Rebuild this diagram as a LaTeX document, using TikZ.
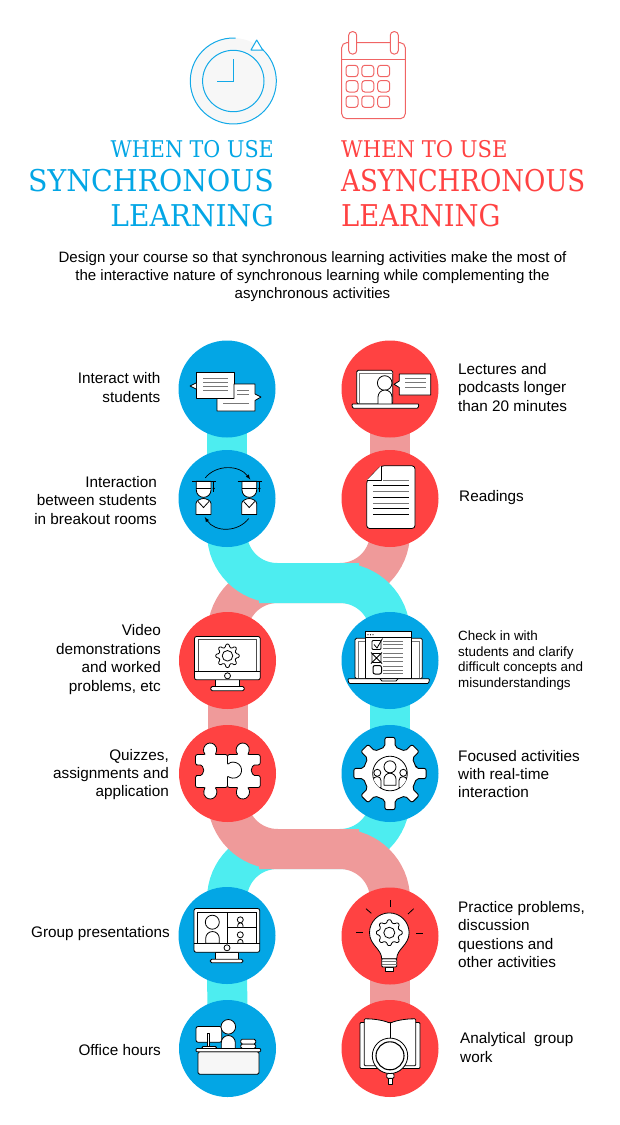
\documentclass[tikz,border=0pt]{standalone}
\usepackage{fontspec}
\usepackage{graphicx}
\setmainfont{Liberation Sans}
\newfontfamily\headfont{DejaVu Serif}
\usetikzlibrary{backgrounds,math}

\definecolor{synblue}{HTML}{03A6E5}
\definecolor{asynred}{HTML}{FF4242}
\definecolor{bandcyan}{HTML}{4DEDF0}
\definecolor{bandsalmon}{HTML}{EF9A9A}
\definecolor{headblue}{HTML}{12A9E8}
\definecolor{calred}{HTML}{F06464}
\definecolor{icongray}{HTML}{777777}

\tikzset{
  syndot/.style={circle,fill=synblue,minimum size=97pt,inner sep=0pt},
  asyndot/.style={circle,fill=asynred,minimum size=97pt,inner sep=0pt},
  cyanband/.style={draw=bandcyan,line width=40pt,rounded corners=50pt},
  salmonband/.style={draw=bandsalmon,line width=40pt,rounded corners=50pt},
  leftlab/.style={anchor=east,align=right,font=\fontsize{15.3}{18.4}\selectfont,inner sep=0pt},
  rightlab/.style={anchor=west,align=left,font=\fontsize{15.3}{18.4}\selectfont,inner sep=0pt},
  headb/.style={anchor=east,inner sep=0pt,text=synblue},
  headr/.style={anchor=west,inner sep=0pt,text=asynred},
  ico/.style={draw=black,fill=white,line width=0.8pt,line join=round},
  icoln/.style={draw=black,line width=0.8pt},
  icogr/.style={draw=icongray,line width=1pt},
}

% closed gear outline: outer radius, body radius, half tooth angle at tip, at root
\newcommand{\gearpath}[4]{(0-#4:#2) \foreach \a in {0,45,...,315} {-- (\a-#4:#2) -- (\a-#3:#1) -- (\a+#3:#1) -- (\a+#4:#2)} -- cycle}

\begin{document}
\begin{tikzpicture}[x=1pt,y=-1pt]
  \useasboundingbox (0,0) rectangle (620,1125);

  % clock
  \fill[black!3] (233.3,81) circle (43);
  \draw[headblue,line width=1pt] (233.3,81) +(-53:43) arc (-53:273:43);
  \draw[headblue,line width=1pt] (233.3,81) circle (30.7);
  \draw[headblue,line width=1pt] (233.3,59) -- (233.3,81) -- (217.3,81);
  \draw[headblue,line width=1pt,fill=white,line join=round] (256.7,40) -- (251,50) -- (262.7,50) -- cycle;

  % calendar
  \draw[calred,line width=1pt,rounded corners=5pt] (341.7,42.7) rectangle (405.3,118.7);
  \draw[calred,line width=1pt] (341.7,59.3) -- (405.3,59.3);
  \draw[calred,line width=1pt,fill=white,rounded corners=3.5pt] (348.7,31.7) rectangle (356.7,54);
  \draw[calred,line width=1pt,fill=white,rounded corners=3.5pt] (390.3,31.7) rectangle (398.3,54);
  \foreach \cx in {352,367.8,383.7}
    \foreach \cy in {71,86.3,101.7}
      \draw[calred,line width=1pt,rounded corners=3pt] (\cx-6,\cy-5.7) rectangle (\cx+6,\cy+5.7);

  % headings
  \node[headb,font=\headfont\fontsize{23}{23}\selectfont] (whena) at (274,149) {\scalebox{0.90}[1]{WHEN TO USE}};
  \node[headb,font=\headfont\fontsize{30}{30}\selectfont] (syn) at (274,181) {\scalebox{0.946}[1]{SYNCHRONOUS}};
  \node[headb,font=\headfont\fontsize{30}{30}\selectfont] (syl) at (274,216) {\scalebox{0.937}[1]{LEARNING}};
  \node[headr,font=\headfont\fontsize{23}{23}\selectfont] (whenb) at (341,149) {\scalebox{0.917}[1]{WHEN TO USE}};
  \node[headr,font=\headfont\fontsize{30}{30}\selectfont] (asyn) at (341,181) {\scalebox{0.868}[1]{ASYNCHRONOUS}};
  \node[headr,font=\headfont\fontsize{30}{30}\selectfont] (asl) at (341,216) {\scalebox{0.914}[1]{LEARNING}};

  \node[align=center,inner sep=0pt,font=\fontsize{15.05}{18}\selectfont] (intro) at (312.5,276.5)
    {Design your course so that synchronous learning activities make the most of\\
     the interactive nature of synchronous learning while complementing the\\
     asynchronous activities};

  % stations
  \node[syndot] (chat) at (227,389) {};
  \node[syndot] (breakout) at (227,498.5) {};
  \node[asyndot] (video) at (227.5,660.5) {};
  \node[asyndot] (quiz) at (227.5,773.5) {};
  \node[syndot] (group) at (227,935.5) {};
  \node[syndot] (office) at (227.5,1048.5) {};
  \node[asyndot] (lecture) at (390,389) {};
  \node[asyndot] (reading) at (390,498.5) {};
  \node[syndot] (check) at (390,660.5) {};
  \node[syndot] (focus) at (390,773.5) {};
  \node[asyndot] (practice) at (390,936) {};
  \node[asyndot] (analytic) at (390,1048.5) {};
  \coordinate (midtop) at (309,583);
  \coordinate (midlow) at (309,849);

  \begin{pgfonlayer}{background}
    \draw[salmonband] (lecture.center) -- (reading.center);
    \draw[salmonband] (reading.center) |- (midtop) -| (video.center);
    \draw[salmonband] (video.center) -- (quiz.center);
    \draw[cyanband] (chat.center) -- (breakout.center);
    \draw[cyanband] (breakout.center) |- (midtop) -| (check.center);
    \draw[cyanband] (check.center) -- (focus.center);
    \draw[cyanband] (focus.center) |- (midlow) -| (group.center);
    \draw[cyanband] (group.center) -- (office.center);
    \draw[salmonband] (quiz.center) |- (midlow) -| (practice.center);
    \draw[salmonband] (practice.center) -- (analytic.center);
  \end{pgfonlayer}

  % labels
  \node[leftlab] (lchat) at (160.5,387.5) {Interact with\\students};
  \node[leftlab] (lbreak) at (157,500.5) {Interaction\\between students\\in breakout rooms};
  \node[leftlab] (lvideo) at (161,659.5) {Video\\demonstrations\\and worked\\problems, etc};
  \node[leftlab] (lquiz) at (169,774.5) {Quizzes,\\assignments and\\application};
  \node[leftlab] (lgroup) at (170,934) {Group presentations};
  \node[leftlab] (loffice) at (161,1050) {Office hours};
  \node[rightlab] (rlect) at (458,387.5) {Lectures and\\podcasts longer\\than 20 minutes};
  \node[rightlab] (rread) at (459,498) {Readings};
  \node[rightlab,font=\fontsize{13.4}{15.8}\selectfont] (rcheck) at (458,660.5) {Check in with\\students and clarify\\difficult concepts and\\misunderstandings};
  \node[rightlab] (rfocus) at (458,774) {Focused activities\\with real-time\\interaction};
  \node[rightlab] (rprac) at (458,934.5) {Practice problems,\\discussion\\questions and\\other activities};
  \node[rightlab] (ranal) at (460,1047.5) {Analytical\ \ group\\work};

  % chat bubbles
  \begin{scope}[shift={(chat.center)}]
    \draw[ico] (-31,-17) rectangle (7,9.5);
    \draw[ico] (-31,-6) -- (-37,-3) -- (-31,0);
    \draw[icogr] (-24,-11) -- (1,-11) (-24,-7) -- (1,-7) (-24,-3) -- (1,-3) (-24,1) -- (1,1);
    \draw[ico] (-10,9.5) -- (-10,22) -- (28,22) -- (28,11.5) -- (34,8) -- (28,5) -- (28,-5) -- (7,-5) -- (7,9.5) -- cycle;
    \draw[icogr] (10,1) -- (22,1) (10,5.6) -- (22,5.6) (-4,14) -- (22,14);
  \end{scope}

  % students swapping
  \begin{scope}[shift={(breakout.center)}]
    \foreach \dx in {0,45.7}{
      \begin{scope}[xshift=\dx pt]
        \draw[ico] (-30.7,-17.3) -- (-16,-17.3) -- (-16,-8.5) arc (0:180:7.35) -- cycle;
        \draw[icoln] (-35,-17.3) -- (-11,-17.3) (-30.7,-10) -- (-16,-10);
        \draw[icoln] (-13.3,-17.3) -- (-13.3,-6.7);
        \fill (-13.3,-10) circle (1.2);
        \draw[ico] (-31,16) -- (-31,5) .. controls (-31,2) and (-26,0) .. (-23.5,0) .. controls (-21,0) and (-16,2) .. (-16,5) -- (-16,16) -- cycle;
        \draw[icoln] (-29,3) -- (-23.5,9) -- (-18,3);
      \end{scope}
    }
    \draw[-latex,line width=0.7pt] (-21.7,-20.7) .. controls (-11,-34) and (12,-34) .. (23.3,-19);
    \draw[-latex,line width=0.7pt] (21.7,20) .. controls (11,34) and (-12,34) .. (-22.3,18.5);
  \end{scope}

  % lecture on laptop
  \begin{scope}[shift={(lecture.center)}]
    \draw[ico,rounded corners=1.5pt] (-33.3,-18.7) rectangle (2.7,15);
    \draw[icogr] (-30.7,15) -- (-30.7,-16) -- (2.7,-16);
    \draw[ico] (-5.3,-6) circle (7.3);
    \draw[ico] (-12,17) -- (-12,8) arc (180:360:7) -- (2,17) -- cycle;
    \draw[ico,rounded corners=1pt] (-38.3,15) -- (29,15) -- (28,19.3) -- (-37.3,19.3) -- cycle;
    \draw[ico] (9.3,-8) -- (4,-4.7) -- (9.3,-1.5) -- (9.3,6) -- (40.7,6) -- (40.7,-15) -- (9.3,-15) -- cycle;
    \draw[icogr] (15,-10.7) -- (36,-10.7) (15,-6.3) -- (36,-6.3) (15,-2) -- (36,-2);
  \end{scope}

  % reading sheet
  \begin{scope}[shift={(reading.center)}]
    \draw[ico,rounded corners=3pt] (-9,-32.7) -- (25,-32.7) -- (25,30) -- (-23.3,30) -- (-23.3,-18) -- cycle;
    \draw[ico] (-23.3,-18) -- (-9,-18) -- (-9,-32.7);
    \draw[icogr] (-6.7,-18.3) -- (19,-18.3);
    \foreach \ly in {-12.7,-1,10.3} \draw[icoln] (-16.7,\ly) -- (19,\ly);
    \foreach \ly in {-6.7,4.7} \draw[icogr] (-16.7,\ly) -- (19,\ly);
    \draw[icoln] (-16.7,16.3) -- (19,16.3);
  \end{scope}

  % monitor with gear
  \begin{scope}[shift={(video.center)}]
    \draw[ico] (-11.7,19) rectangle (11.7,26);
    \draw[ico,rounded corners=1.5pt] (-16.7,26) rectangle (16.7,30.3);
    \draw[ico,rounded corners=2pt] (-33,-24) rectangle (32.7,19.3);
    \draw[icoln,draw=black!70] (-29,11) -- (-29,-20.7) -- (28.7,-20.7) -- (28.7,11);
    \draw[icoln] (-33,11) -- (32.7,11);
    \draw[ico] (0,15.3) circle (3);
    \begin{scope}[shift={(0,-4.7)}]
      \draw[ico,rounded corners=1pt] \gearpath{11.8}{8.7}{8}{14};
      \draw[ico] (0,0) circle (5.3);
    \end{scope}
  \end{scope}

  % checklist on laptop
  \begin{scope}[shift={(check.center)}]
    \draw[ico,rounded corners=1.5pt] (-35,18.3) -- (-35,-22.3) -- (32.3,-22.3) -- (32.3,18.3) -- cycle;
    \draw[icogr] (-31.7,18.3) -- (-31.7,-19) -- (29,-19) -- (29,18.3);
    \draw[ico] (-24.7,18.3) rectangle (21.3,-29);
    \draw[icoln] (-24.7,-22.7) -- (21.3,-22.7);
    \foreach \dx in {-22,-19.5,-17} \fill (\dx,-25.8) circle (0.7);
    \draw[ico,rounded corners=1pt] (-38,18.3) -- (39.7,18.3) -- (38.5,23) -- (-41,23) -- (-42.3,18.3) -- cycle;
    \draw[icoln] (-10,18.3) -- (-8,20.5) -- (6,20.5) -- (8,18.3);
    \draw[icoln,rounded corners=1pt] (-18,-20) rectangle (-9,-11);
    \draw[icoln] (-16,-16) -- (-13,-12.5) -- (-7.5,-22);
    \draw[icoln,rounded corners=1pt] (-18,-7) rectangle (-9,2);
    \draw[icoln] (-19,-8) -- (-8,3) (-8,-8) -- (-19,3);
    \draw[icogr,draw=black,rounded corners=2pt] (-17,5) rectangle (-8.5,13.5);
    \foreach \ly in {-19.3,-15.7,-12.3,-6.7,-2.7,1.3,6.3,9.7,13.3}
      \draw[icogr] (-6.7,\ly) -- (13.3,\ly);
  \end{scope}

  % puzzle
  \begin{scope}[shift={(quiz.center)}]
    \draw[ico,rounded corners=2pt] (0,-19) -- (11.1,-19) arc (130:410:6.5) -- (32.7,-19) -- (32.7,-8.6) -- (29,-8.6) arc (-90:-270:5.3) -- (32.7,2) -- (32.7,14) -- (19.5,14) arc (310:590:6.5) -- (0,14) -- cycle;
    \draw[ico,rounded corners=2pt] (-32,-19) -- (-21.5,-19) arc (130:410:6.5) -- (0,-19) -- (0,-8.4) arc (220:500:8) -- (0,14) -- (-13.1,14) arc (310:590:6.5) -- (-32,14) -- (-32,2) -- (-29,2) arc (90:-90:5.3) -- (-32,-8.6) -- cycle;
  \end{scope}

  % gear with people
  \begin{scope}[shift={(focus.center)}]
    \draw[ico,rounded corners=2pt,line width=0.9pt] \gearpath{36.5}{27}{8}{11};
    \draw[ico] (0,0) circle (17.3);
    \begin{scope}
      \clip (0,0) circle (17.3);
      \draw[ico] (-12.7,-0.7) circle (3.5);
      \draw[ico] (13.3,-0.7) circle (3.5);
      \draw[ico] (-17,14) -- (-17,7) arc (180:360:4) -- (-9,14) -- cycle;
      \draw[ico] (9,14) -- (9,7) arc (180:360:4) -- (17.6,14) -- cycle;
      \draw[ico] (0,-6.7) circle (6);
      \draw[ico] (-6,11.7) -- (-6,5.7) arc (180:360:6) -- (6,11.7) -- cycle;
    \end{scope}
  \end{scope}

  % group call on monitor
  \begin{scope}[shift={(group.center)}]
    \draw[ico] (-11.7,16.7) rectangle (11.7,23.7);
    \draw[ico,rounded corners=1.5pt] (-16.7,23.7) rectangle (16,27.3);
    \draw[ico,rounded corners=2pt] (-33,-27) rectangle (32.7,16.7);
    \draw[icoln] (-33,7.7) -- (32.7,7.7) (-29.3,7.7) -- (-29.3,-23.3) -- (29.3,-23.3) -- (29.3,7.7);
    \draw[icoln] (0,-23.3) -- (0,7.7) (0,-8) -- (29.3,-8);
    \draw[ico] (-14.7,-13.3) circle (7);
    \draw[ico] (-21.3,7.7) -- (-21.3,2.8) arc (180:360:6.8) -- (-7.7,7.7) -- cycle;
    \draw[ico] (13.3,-15.7) circle (3);
    \draw[ico] (10.7,-8) -- (10.7,-10) arc (180:360:2.65) -- (16,-8) -- cycle;
    \draw[ico] (13.3,-0.7) circle (3);
    \draw[ico] (10.7,7.7) -- (10.7,6.5) arc (180:360:2.65) -- (16,7.7) -- cycle;
    \draw[ico] (0,12.3) circle (3);
  \end{scope}

  % teacher at desk
  \begin{scope}[shift={(office.center)}]
    \draw[ico,rounded corners=2pt] (-31.5,-22) rectangle (-5.8,-6.3);
    \draw[ico] (-20,-2) -- (-20,-15) -- (-18.4,-15) -- (-18.4,-2);
    \draw[ico,rounded corners=1pt] (-25.5,-2) rectangle (-11,0);
    \draw[ico] (-6.2,0) -- (-6.2,-6) arc (180:360:7) -- (7.8,0) -- cycle;
    \draw[ico] (0.8,-21.7) circle (7.3);
    \draw[ico,rounded corners=1.5pt] (13.2,-4.5) rectangle (28.2,0);
    \draw[ico,rounded corners=1.5pt] (13.2,-9.3) rectangle (28.2,-4.5);
    \draw[ico,fill=black!3,rounded corners=1.5pt] (-29.5,3.3) rectangle (31.5,25.7);
    \draw[ico,rounded corners=1pt] (-31.5,0) rectangle (33.2,3.3);
  \end{scope}

  % light bulb
  \begin{scope}[shift={(practice.center)}]
    \foreach \rx/\ry/\sx/\sy in {0/-36/0/-29,-34/-3.7/-27.3/-3.7,26/-2.7/32.7/-2.7,-24/-27.3/-18.7/-22.7,23.7/-27.3/18/-22}
      \draw[icoln] (\rx,\ry) -- (\sx,\sy);
    \draw[ico] (-5,31) rectangle (3.3,35);
    \draw[ico,rounded corners=1pt] (-8.3,22.7) rectangle (6.7,31);
    \draw[icogr] (-8.3,25.5) -- (6.7,25.5) (-8.3,28.2) -- (6.7,28.2);
    \draw[ico] (-8.3,22.7) .. controls (-8.3,13) and (-20.5,9) .. (-20.5,-3.3) arc (180:360:19.8) .. controls (19.1,9) and (6.7,13) .. (6.7,22.7) -- cycle;
    \begin{scope}[shift={(-0.7,-3.3)}]
      \draw[icoln,rounded corners=1pt] \gearpath{13}{10.2}{8}{13};
      \draw[icoln] (0,0) circle (5.5);
    \end{scope}
  \end{scope}

  % book and lens
  \begin{scope}[shift={(analytic.center)}]
    \draw[ico,rounded corners=1pt] (-30,-26) rectangle (30,20);
    \draw[ico,rounded corners=1pt] (-25.7,17.3) -- (-25.7,-29.7) .. controls (-15,-29.7) and (-6,-28) .. (0,-25.3) .. controls (6,-28) and (15,-29.7) .. (25.7,-29.7) -- (25.7,17.3) -- cycle;
    \draw[icoln] (0,-25.3) -- (0,-8);
    \draw[ico] (-2,29.7) rectangle (2.7,36.3);
    \draw[ico,rounded corners=1pt] (-3.3,25) rectangle (4,29.7);
    \draw[ico] (0,7.3) circle (17.7);
    \draw[ico,line width=1.1pt] (0,7.3) circle (14);
  \end{scope}
\end{tikzpicture}
\end{document}
